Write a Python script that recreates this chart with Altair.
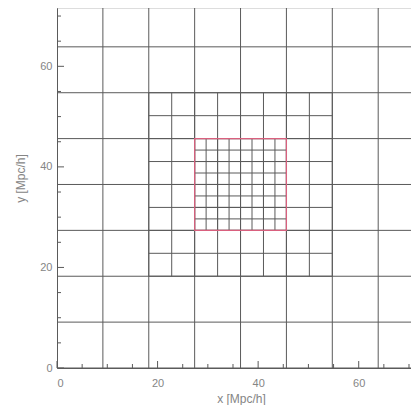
import altair as alt
import pandas as pd

# Grid edges (Mpc/h) for each refinement level
coarse_edges = [0.0, 9.125, 18.25, 27.375, 36.5, 45.625, 54.75, 63.875, 73.0]
level1_edges = [18.25, 22.8125, 27.375, 31.9375, 36.5, 41.0625, 45.625, 50.1875, 54.75]
level2_edges = [27.375, 29.656, 31.9375, 34.219, 36.5, 38.781, 41.0625, 43.344, 45.625]

major_ticks = [0, 20, 40, 60]
minor_ticks = [5, 10, 15, 25, 30, 35, 45, 50, 55, 65, 70]

rows = []
for edges in (coarse_edges, level1_edges, level2_edges):
    lo, hi = edges[0], edges[-1]
    for e in edges:
        rows.append({"x": e, "x2": e, "y": lo, "y2": hi})
        rows.append({"x": lo, "x2": hi, "y": e, "y2": e})
grid = pd.DataFrame(rows)

box = pd.DataFrame([{"x": level2_edges[0], "x2": level2_edges[-1],
                     "y": level2_edges[0], "y2": level2_edges[-1]}])

major = pd.DataFrame({"v": major_ticks})
minor = pd.DataFrame({"v": minor_ticks})

W, H = 354, 360
xs = alt.Scale(domain=[0, 70.4], nice=False, zero=False)
ys = alt.Scale(domain=[0, 71.6], nice=False, zero=False)

axis_common = dict(grid=False, ticks=False, tickSize=0, domainColor="#5a5a5a",
                   labelColor="#858585", labelFontSize=11, labelFont="Liberation Sans",
                   titleColor="#858585", titleFontSize=12, titleFont="Liberation Sans",
                   titleFontWeight="normal", values=major_ticks)

lines = alt.Chart(grid).mark_rule(color="#5a5a5a", strokeWidth=1, clip=True).encode(
    x=alt.X("x:Q", scale=xs, axis=alt.Axis(title="x [Mpc/h]", labelPadding=9,
                                          titleX=184, titleY=30, titleBaseline="middle",
                                          **axis_common)),
    x2="x2:Q",
    y=alt.Y("y:Q", scale=ys, axis=alt.Axis(title="y [Mpc/h]", labelPadding=5,
                                          titleX=-37, titleY=170, titleAngle=-90,
                                          titleBaseline="middle", **axis_common)),
    y2="y2:Q",
)

red = alt.Chart(box).mark_rect(fill=None, stroke="#d9607e", strokeWidth=1.2, clip=True).encode(
    x="x:Q", x2="x2:Q", y="y:Q", y2="y2:Q"
)

xticks_major = alt.Chart(major).mark_rule(color="#5a5a5a").encode(
    x="v:Q", y=alt.value(H), y2=alt.value(H - 7))
xticks_minor = alt.Chart(minor).mark_rule(color="#5a5a5a").encode(
    x="v:Q", y=alt.value(H), y2=alt.value(H - 4))
yticks_major = alt.Chart(major).mark_rule(color="#5a5a5a").encode(
    y="v:Q", x=alt.value(0), x2=alt.value(7))
yticks_minor = alt.Chart(minor).mark_rule(color="#5a5a5a").encode(
    y="v:Q", x=alt.value(0), x2=alt.value(4))

chart = alt.layer(lines, red, xticks_major, xticks_minor, yticks_major, yticks_minor).properties(
    width=W, height=H,
    autosize=alt.AutoSizeParams(type="none"),
    padding={"left": 49, "top": 0, "right": 0, "bottom": 37},
).configure_view(stroke=None).configure(background="white")

chart.save("out.html", embed_options={"renderer": "svg", "actions": False})
